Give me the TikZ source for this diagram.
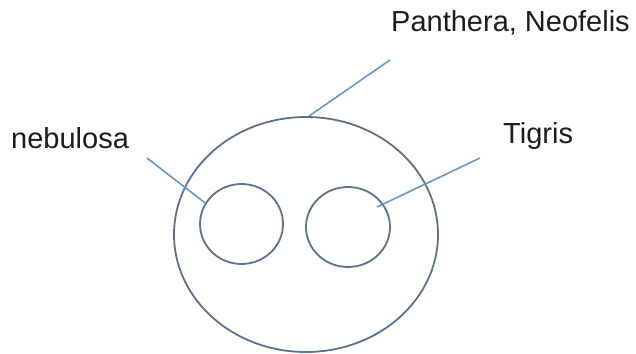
\documentclass[tikz,border=0pt]{standalone}
\usepackage{fontspec}
\setmainfont{Liberation Sans}
\usepackage{tikz}
\usetikzlibrary{shapes.geometric}
\definecolor{ringcol}{RGB}{92,114,136}
\definecolor{linkcol}{RGB}{108,150,192}
\definecolor{labcol}{RGB}{28,28,28}

\begin{document}
\begin{tikzpicture}[
    x=1pt, y=-1pt,
    ring/.style={draw=ringcol, ellipse, inner sep=0pt, line width=1.8pt},
    link/.style={draw=linkcol, line width=1.6pt},
    lab/.style={anchor=base west, inner sep=0pt, text=labcol, font=\fontsize{29}{34}\selectfont}
]
    \useasboundingbox (0,0) rectangle (636,353);

    \node[ring, minimum width=264pt, minimum height=235pt] (genus) at (306,234.5) {};
    \node[ring, minimum width=83pt, minimum height=80pt] (neb) at (241.5,224) {};
    \node[ring, minimum width=84pt, minimum height=80pt] (tig) at (348,227) {};

    \node[lab] (pan_lab) at (391,32) {Panthera, Neofelis};
    \node[lab] (neb_lab) at (11,148) {nebulosa};
    \node[lab] (tig_lab) at (503,143) {Tigris};

    \coordinate (pan_end) at (390,60);
    \coordinate (neb_end) at (147,158);
    \coordinate (tig_end) at (480,158);
    \coordinate (tig_in) at (377,207);

    \draw[link] (genus.north) ++(3,0) coordinate (genus_top) -- (pan_end);
    \draw[link] (neb_end) -- (neb.150);
    \draw[link] (tig_end) -- (tig_in);

\end{tikzpicture}
\end{document}
